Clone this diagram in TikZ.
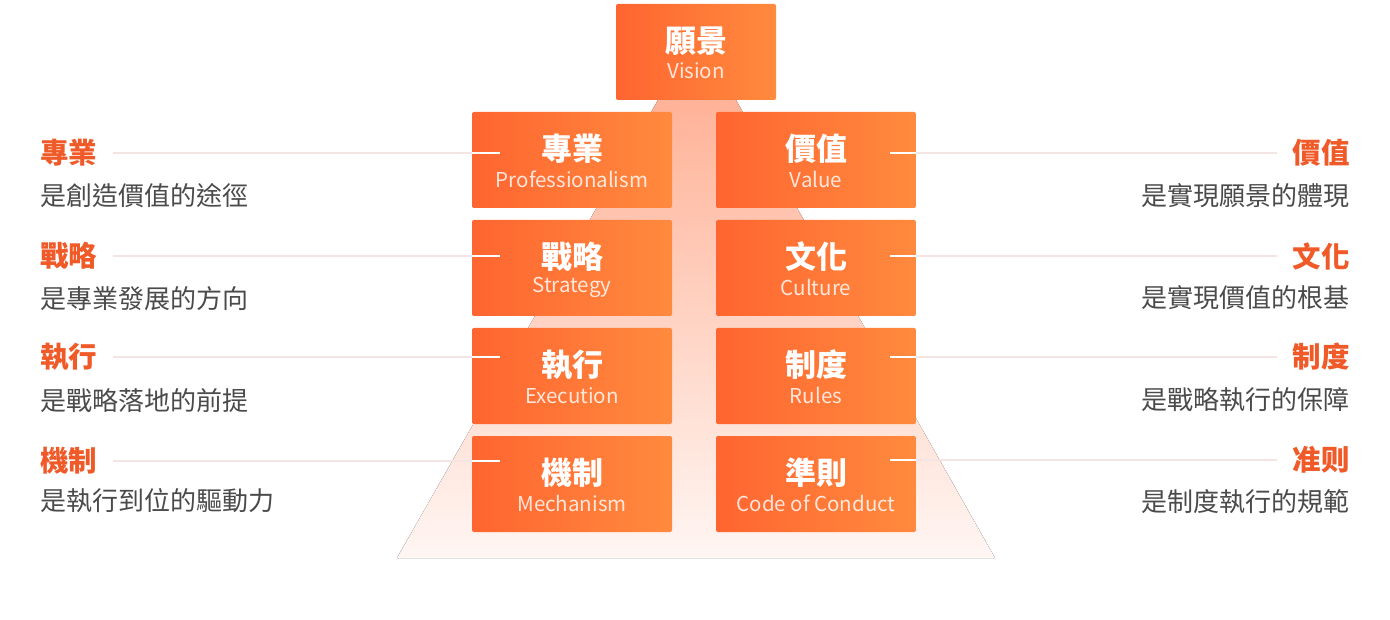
\documentclass[tikz,border=0pt]{standalone}
\usepackage{fontspec}
\setmainfont{Noto Sans CJK TC}
\usetikzlibrary{positioning, calc}
\definecolor{BoxLeft}{HTML}{FF6530}
\definecolor{BoxRight}{HTML}{FF8A3E}
\definecolor{TitleRed}{HTML}{EF5A28}
\definecolor{TextGray}{HTML}{4A4A4A}
\definecolor{LinePink}{HTML}{F4E4E4}
\definecolor{PyrTop}{HTML}{FFB398}
\definecolor{PyrBottom}{HTML}{FFF6F3}
\tikzset{
  pillar/.style={rectangle, rounded corners=2pt, left color=BoxLeft, right color=BoxRight, minimum width=200pt, minimum height=96pt, inner sep=0pt},
  zhlabel/.style={font=\fontsize{31}{36}\selectfont\bfseries, text=white, inner sep=0pt},
  enlabel/.style={font=\fontsize{20.5}{24}\selectfont, text=white, text opacity=0.82, inner sep=0pt},
  sidetitle/.style={font=\fontsize{28.5}{32}\selectfont\bfseries, text=TitleRed, inner sep=0pt},
  sidenote/.style={font=\fontsize{26}{30}\selectfont, text=TextGray, inner sep=0pt},
  leader/.style={draw=LinePink, line width=2pt},
  inleader/.style={draw=white, line width=2pt}
}

\begin{document}
\begin{tikzpicture}[x=1pt, y=-1pt]
\useasboundingbox (0,0) rectangle (1390,620);

% pyramid behind the pillars
\fill[top color=PyrTop, bottom color=PyrBottom] (658,100) -- (736,100) -- (995,558) -- (397,558) -- cycle;

% top box
\node[pillar, minimum width=160pt] (vision) at (696,52) {};
\node[zhlabel] (visionzh) at ($(vision.north)+(0,37)$) {願景};
\node[enlabel] (visionen) at ($(vision.north)+(0,67)$) {Vision};

% left column
\foreach \i/\y/\zh/\en in {1/160/專業/Professionalism, 2/268/戰略/Strategy, 3/376/執行/Execution, 4/484/機制/Mechanism} {
  \node[pillar] (pl\i) at (572,\y) {};
  \node[zhlabel] (plzh\i) at ($(pl\i.north)+(0,37)$) {\zh};
  \node[enlabel] (plen\i) at ($(pl\i.north)+(0,68)$) {\en};
}

% right column
\foreach \i/\y/\zh/\en in {1/160/價值/Value, 2/268/文化/Culture, 3/376/制度/Rules, 4/484/準則/Code of Conduct} {
  \node[pillar] (pr\i) at (816,\y) {};
  \node[zhlabel] (przh\i) at ($(pr\i.north)+(0,37)$) {\zh};
  \node[enlabel] (pren\i) at ($(pr\i.north)+(0,68)$) {\en};
}

% left notes
\foreach \i/\ty/\sy/\tname/\tdesc in {1/153/196/專業/是創造價值的途徑, 2/256/299/戰略/是專業發展的方向, 3/357/401/執行/是戰略落地的前提, 4/461/501/機制/是執行到位的驅動力} {
  \node[sidetitle, anchor=west] (lt\i) at (40,\ty) {\tname};
  \node[sidenote, anchor=west] (ls\i) at (40,\sy) {\tdesc};
  \draw[leader] ([xshift=16pt]lt\i.east) -- (lt\i.east -| pl\i.west);
  \draw[inleader] (lt\i.east -| pl\i.west) -- ++(28,0);
}

% right notes
\foreach \i/\ty/\sy/\tname/\tdesc in {1/153/196/價值/是實現願景的體現, 2/256/298/文化/是實現價值的根基, 3/357/400/制度/是戰略執行的保障, 4/460/502/准则/是制度執行的規範} {
  \node[sidetitle, anchor=east] (rt\i) at (1350,\ty) {\tname};
  \node[sidenote, anchor=east] (rs\i) at (1350,\sy) {\tdesc};
  \draw[leader] ([xshift=-16pt]rt\i.west) -- (rt\i.west -| pr\i.east);
  \draw[inleader] (rt\i.west -| pr\i.east) -- ++(-26,0);
}
\end{tikzpicture}
\end{document}
